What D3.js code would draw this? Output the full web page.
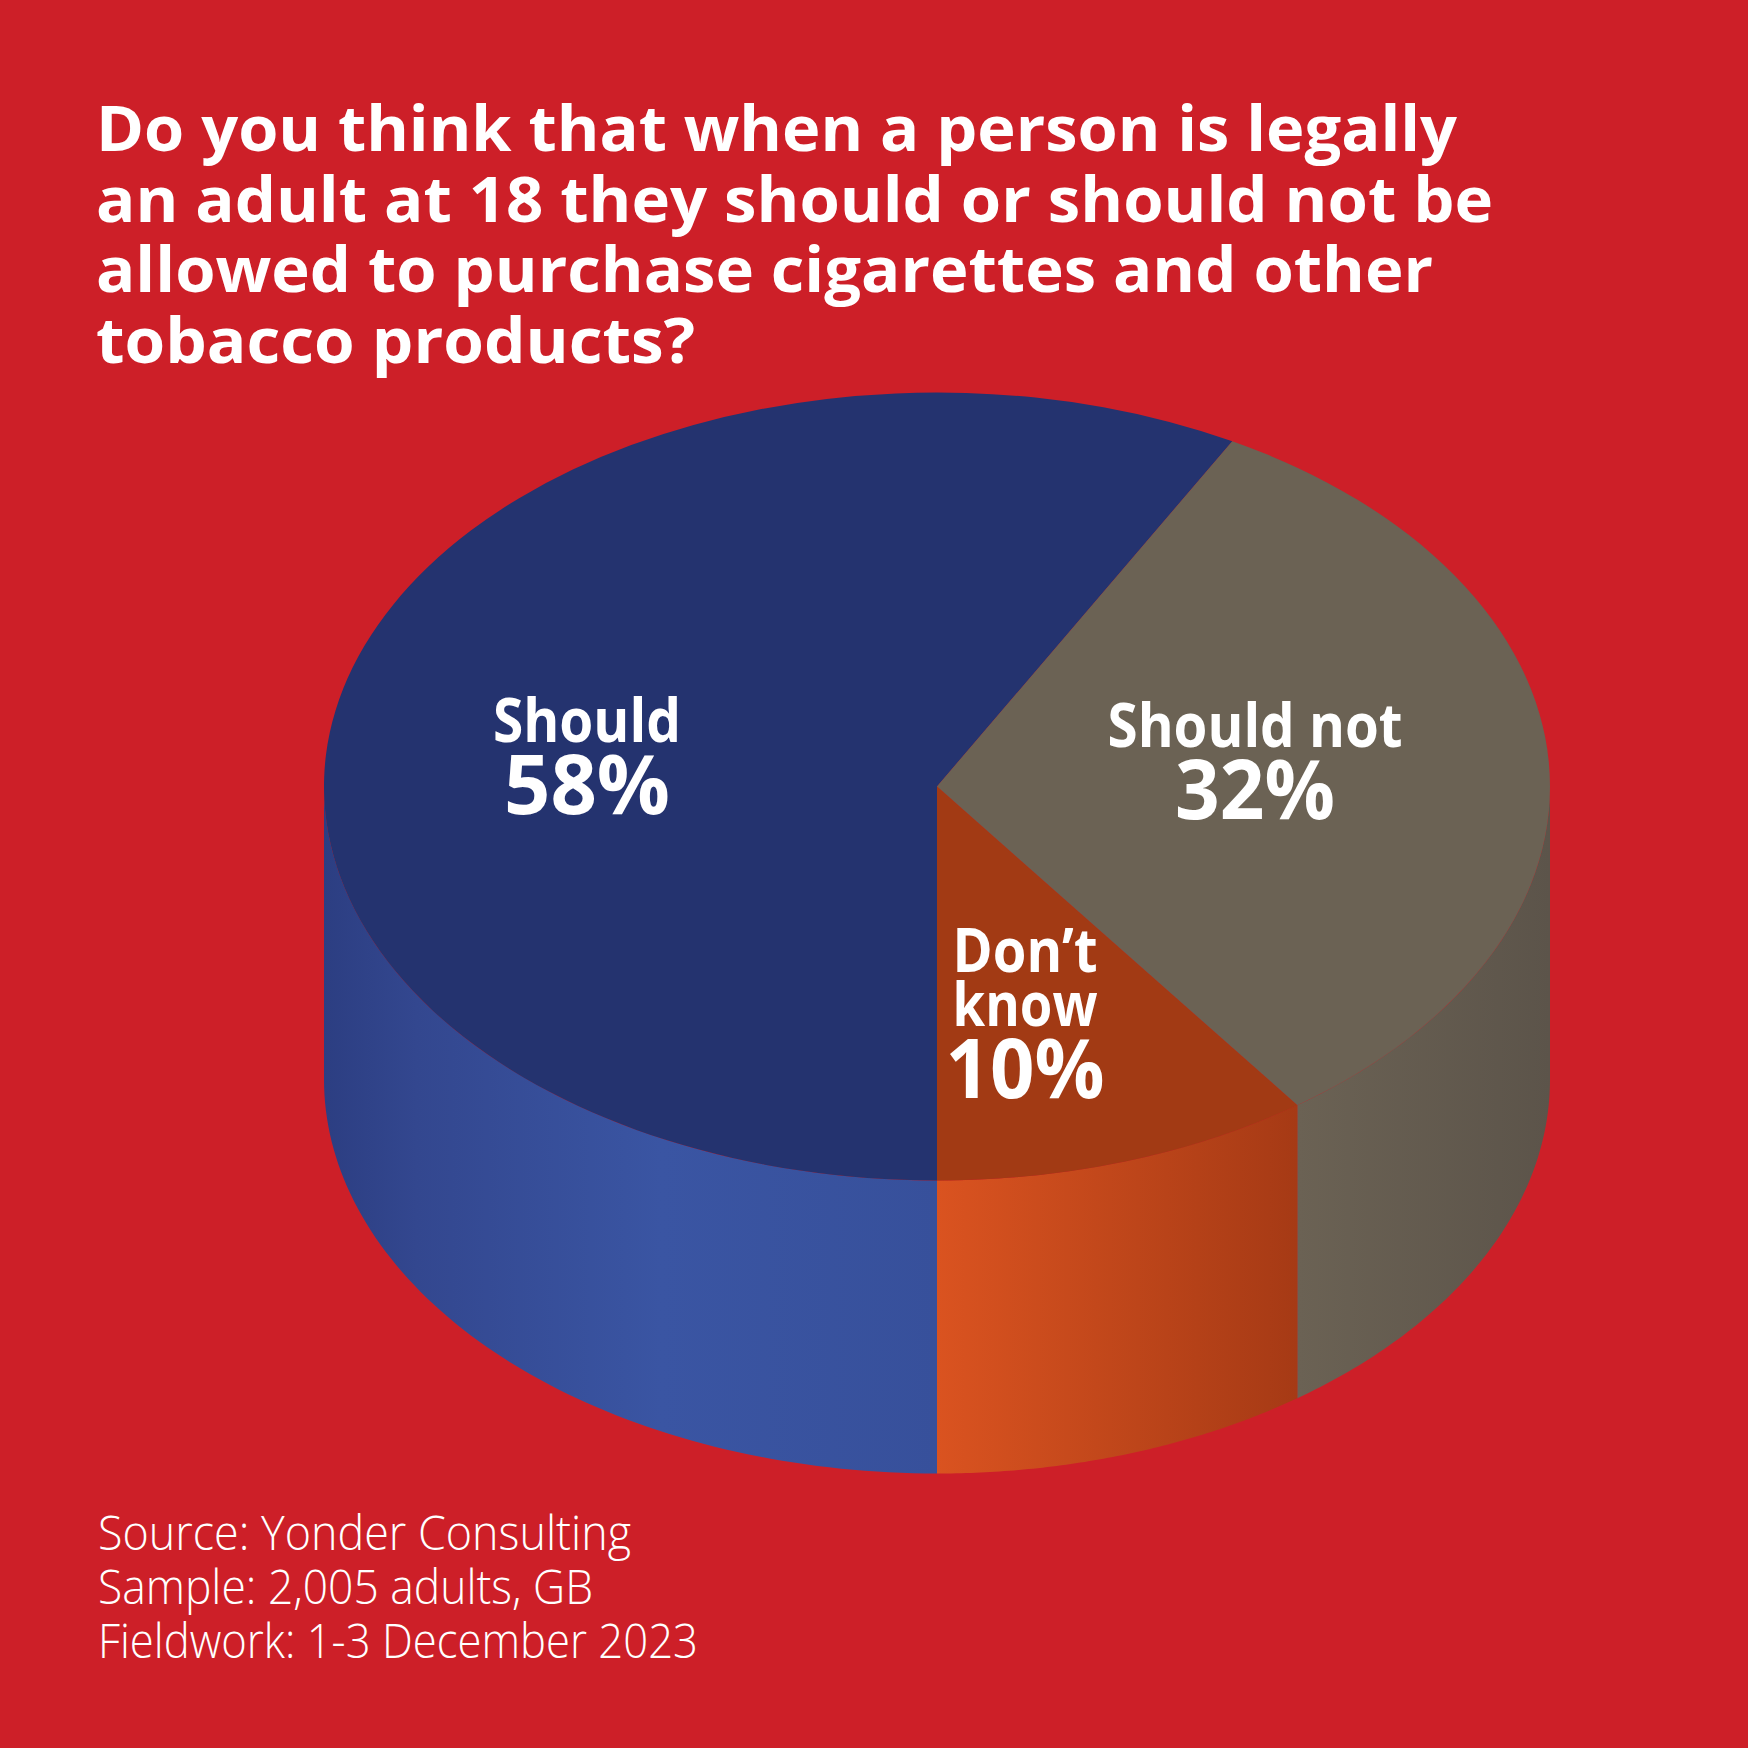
<!DOCTYPE html>
<html>
<head>
<meta charset="utf-8">
<script src="https://cdn.jsdelivr.net/npm/d3@7"></script>
<style>
  body { margin: 0; background: #cd1f28; }
  text { font-family: "Open Sans", "Noto Sans", sans-serif; fill: #ffffff; }
</style>
</head>
<body>
<div id="chart-area"></div>
<script>
// data
const categories = ["Should", "Should not", "Don’t know"];
const values = [58, 32, 10];
const labelWords = [["Should"], ["Should not"], ["Don’t", "know"]];
const titleLines = [
    "Do you think that when a person is legally",
    "an adult at 18 they should or should not be",
    "allowed to purchase cigarettes and other",
    "tobacco products?"
];
const footerLines = [
    "Source: Yonder Consulting",
    "Sample: 2,005 adults, GB",
    "Fieldwork: 1-3 December 2023"
];

// styling / layout
const W = 1748, H = 1748;
const cx = 937, cy = 786.5, rx = 613, ry = 394, depth = 293;
const topColors = ["#24336f", "#6b6254", "#a23a14"];
const sideStops = [
    [[0, "#2c3e82"], [0.15, "#33478f"], [0.55, "#3a55a3"], [1, "#37509b"]],
    [[0, "#6b6254"], [1, "#5c544a"]],
    [[0, "#da5320"], [1, "#a63a15"]]
];
const titleWidths = [1361, 1397, 1337, 599];
const footerWidths = [533, 495, 600];
const labelPos = [[587, 742], [1255, 747], [1025, 972]];
const wordWidths = [[188], [295], [145, 145]];
const pctWidths = [166, 160, 159];

const svg = d3.select("#chart-area")
    .append("svg")
        .attr("width", W)
        .attr("height", H);

svg.append("rect")
    .attr("width", W)
    .attr("height", H)
    .attr("fill", "#cd1f28");

const defs = svg.append("defs");

// pie angles, starting at 6 o'clock and going clockwise
const pie = d3.pie()
    .sort(null)
    .value(d => d)
    .startAngle(Math.PI)
    .endAngle(3 * Math.PI);
const arcs = pie(values);

const px = a => cx + rx * Math.sin(a);
const py = a => cy - ry * Math.cos(a);

// front half of the cylinder is between PI/2 and 3PI/2 (mod 2PI)
function visibleRange(a0, a1) {
    for (let k = 0; k < 2; k++) {
        const lo = Math.PI / 2 + k * 2 * Math.PI, hi = 3 * Math.PI / 2 + k * 2 * Math.PI;
        const s = Math.max(a0, lo), e = Math.min(a1, hi);
        if (e > s) return [s, e];
    }
    return null;
}

const line = d3.line();

arcs.forEach((d, i) => {
    const r = visibleRange(d.startAngle, d.endAngle);
    if (!r) return;
    const n = 80;
    const angs = d3.range(n + 1).map(j => r[0] + (r[1] - r[0]) * j / n);
    const topPts = angs.map(a => [px(a), py(a)]);
    const botPts = angs.slice().reverse().map(a => [px(a), py(a) + depth]);
    const xs = topPts.map(p => p[0]);

    const grad = defs.append("linearGradient")
        .attr("id", "side" + i)
        .attr("gradientUnits", "userSpaceOnUse")
        .attr("x1", d3.min(xs)).attr("x2", d3.max(xs))
        .attr("y1", 0).attr("y2", 0);
    grad.selectAll("stop")
        .data(sideStops[i])
        .enter()
        .append("stop")
            .attr("offset", s => s[0])
            .attr("stop-color", s => s[1]);

    svg.append("path")
        .attr("d", line(topPts.concat(botPts)) + "Z")
        .attr("fill", "url(#side" + i + ")");
});

// top face: flat pie squashed into an ellipse
const arc = d3.arc().innerRadius(0).outerRadius(rx);
svg.append("g")
    .attr("transform", `translate(${cx},${cy}) scale(1,${ry / rx})`)
    .selectAll("path")
    .data(arcs)
    .enter()
    .append("path")
        .attr("d", arc)
        .attr("fill", (d, i) => topColors[i]);

// labels, one text element per slice
categories.forEach((c, i) => {
    const [lx, ly] = labelPos[i];
    const words = labelWords[i];
    const t = svg.append("text")
        .attr("text-anchor", "middle")
        .attr("font-weight", 700);
    words.forEach((w, j) => {
        t.append("tspan")
            .attr("x", lx)
            .attr("y", ly + j * 54)
            .attr("font-size", 60)
            .attr("textLength", wordWidths[i][j])
            .attr("lengthAdjust", "spacingAndGlyphs")
            .text(w);
    });
    t.append("tspan")
        .attr("x", lx)
        .attr("y", ly + (words.length - 1) * 54 + 72)
        .attr("font-size", 82)
        .attr("textLength", pctWidths[i])
        .attr("lengthAdjust", "spacingAndGlyphs")
        .text(values[i] + "%");
});

// title
svg.selectAll(".title")
    .data(titleLines)
    .enter()
    .append("text")
        .attr("class", "title")
        .attr("x", 96)
        .attr("y", (d, i) => 151 + i * 70.5)
        .attr("font-size", 63)
        .attr("font-weight", 700)
        .attr("textLength", (d, i) => titleWidths[i])
        .attr("lengthAdjust", "spacingAndGlyphs")
        .text(d => d);

// footer
svg.selectAll(".foot")
    .data(footerLines)
    .enter()
    .append("text")
        .attr("class", "foot")
        .attr("x", 98)
        .attr("y", (d, i) => 1550 + i * 54)
        .attr("font-size", 47)
        .attr("font-weight", 300)
        .attr("textLength", (d, i) => footerWidths[i])
        .attr("lengthAdjust", "spacingAndGlyphs")
        .text(d => d);
</script>
</body>
</html>
